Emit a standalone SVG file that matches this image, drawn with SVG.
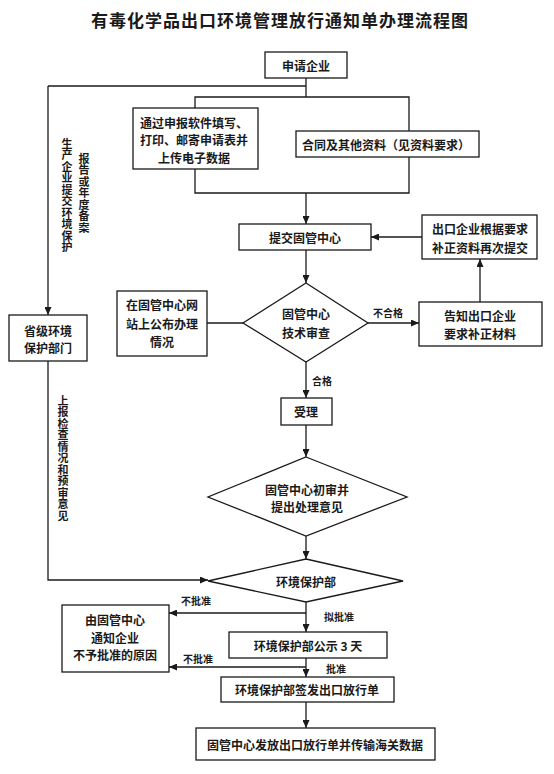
<svg xmlns="http://www.w3.org/2000/svg" width="554" height="774" viewBox="0 0 554 774">
<defs>
<marker id="arr" markerUnits="userSpaceOnUse" markerWidth="8" markerHeight="7" refX="8" refY="3.5" orient="auto">
<path d="M0,0 L8,3.5 L0,7 z" fill="#1a1a1a"/>
</marker>
</defs>
<style>
.bx{fill:#fff;stroke:#1a1a1a;stroke-width:1.3}
.t{font-family:"Noto Sans CJK SC","Noto Sans CJK JP",sans-serif;font-size:12px;font-weight:bold;fill:#1a1a1a;text-anchor:middle;dominant-baseline:central}
.lb{font-family:"Noto Sans CJK SC","Noto Sans CJK JP",sans-serif;font-size:10px;font-weight:bold;fill:#1a1a1a;text-anchor:middle;dominant-baseline:central}
.vt{font-family:"Noto Sans CJK SC","Noto Sans CJK JP",sans-serif;font-size:11px;font-weight:bold;fill:#1a1a1a;writing-mode:vertical-rl;letter-spacing:0.5px}
.ln{fill:none;stroke:#1a1a1a;stroke-width:1.3}
.ar{fill:none;stroke:#1a1a1a;stroke-width:1.3;marker-end:url(#arr)}
</style>
<rect width="554" height="774" fill="#fff"/>
<text x="280" y="19" class="t" style="font-size:17px;letter-spacing:1px">有毒化学品出口环境管理放行通知单办理流程图</text>

<g id="connectors">
<path class="ln" d="M306,78 V97"/>
<path class="ln" d="M306,86 H48"/>
<path class="ar" d="M48,86 V315"/>
<path class="ln" d="M195,108 V97 H409 V131"/>
<path class="ln" d="M195,169 V193 H409 V157"/>
<path class="ar" d="M306,193 V224"/>
<path class="ar" d="M306,250 V283"/>
<path class="ar" d="M368,323 H419"/>
<path class="ar" d="M480,302 V259"/>
<path class="ar" d="M422,237 H371"/>
<path class="ln" d="M207,323 H243"/>
<path class="ar" d="M306,362 V398"/>
<path class="ar" d="M306,425 V457"/>
<path class="ar" d="M306,536 V559"/>
<path class="ar" d="M48,361 V580 H208"/>
<path class="ar" d="M306,602 V632"/>
<path class="ar" d="M306,613 H169"/>
<path class="ar" d="M306,658 V677"/>
<path class="ar" d="M306,667 H169"/>
<path class="ar" d="M306,702 V728"/>
<text x="388" y="312" class="lb">不合格</text>
<text x="322" y="380" class="lb">合格</text>
<text x="196" y="600" class="lb">不批准</text>
<text x="339" y="616" class="lb">拟批准</text>
<text x="198" y="658" class="lb">不批准</text>
<text x="336" y="668" class="lb">批准</text>
<text x="67" y="138" class="vt">生产企业提交环境保护</text>
<text x="84" y="153" class="vt">报告或年度备案</text>
<text x="63" y="395" class="vt">上报检查情况和预审意见</text>
</g>

<g id="n_apply">
<rect class="bx" x="265" y="52" width="82" height="26"/>
<text x="306" y="65" class="t">申请企业</text>
</g>
<g id="n_software">
<rect class="bx" x="133" y="108" width="125" height="61"/>
<text x="194" y="122" class="t">通过申报软件填写、</text>
<text x="194" y="139.5" class="t">打印、邮寄申请表并</text>
<text x="194" y="157" class="t">上传电子数据</text>
</g>
<g id="n_contract">
<rect class="bx" x="296" y="131" width="183" height="26"/>
<text x="386" y="144.5" class="t">合同及其他资料（见资料要求）</text>
</g>
<g id="n_submit">
<rect class="bx" x="239" y="224" width="132" height="26"/>
<text x="305" y="237" class="t">提交固管中心</text>
</g>
<g id="n_resubmit">
<rect class="bx" x="422" y="215" width="115" height="44"/>
<text x="480" y="228" class="t">出口企业根据要求</text>
<text x="480" y="247" class="t">补正资料再次提交</text>
</g>
<g id="n_review">
<polygon class="bx" points="306,283 368,323 306,362 243,323"/>
<text x="306" y="313" class="t">固管中心</text>
<text x="306" y="332" class="t">技术审查</text>
</g>
<g id="n_notify">
<rect class="bx" x="419" y="302" width="123" height="44"/>
<text x="480" y="315" class="t">告知出口企业</text>
<text x="480" y="333" class="t">要求补正材料</text>
</g>
<g id="n_publish">
<rect class="bx" x="117" y="291" width="90" height="65"/>
<text x="162" y="304" class="t">在固管中心网</text>
<text x="162" y="323" class="t">站上公布办理</text>
<text x="162" y="341" class="t">情况</text>
</g>
<g id="n_province">
<rect class="bx" x="9" y="315" width="78" height="46"/>
<text x="48" y="330" class="t">省级环境</text>
<text x="48" y="347" class="t">保护部门</text>
</g>
<g id="n_accept">
<rect class="bx" x="281" y="398" width="51" height="27"/>
<text x="306" y="411.5" class="t">受理</text>
</g>
<g id="n_prelim">
<polygon class="bx" points="306,457 407,497 306,536 208,497"/>
<text x="307" y="489" class="t">固管中心初审并</text>
<text x="307" y="506" class="t">提出处理意见</text>
</g>
<g id="n_mep">
<polygon class="bx" points="306,559 403,581 306,602 208,581"/>
<text x="306" y="581" class="t">环境保护部</text>
</g>
<g id="n_reject">
<rect class="bx" x="62" y="605" width="107" height="67"/>
<text x="115" y="619" class="t">由固管中心</text>
<text x="115" y="637" class="t">通知企业</text>
<text x="115" y="654" class="t">不予批准的原因</text>
</g>
<g id="n_public">
<rect class="bx" x="229" y="632" width="158" height="26"/>
<text x="308" y="645" class="t">环境保护部公示 3 天</text>
</g>
<g id="n_issue">
<rect class="bx" x="221" y="677" width="173" height="25"/>
<text x="307" y="689.5" class="t">环境保护部签发出口放行单</text>
</g>
<g id="n_transmit">
<rect class="bx" x="196" y="728" width="239" height="32"/>
<text x="315" y="744" class="t">固管中心发放出口放行单并传输海关数据</text>
</g>
</svg>
